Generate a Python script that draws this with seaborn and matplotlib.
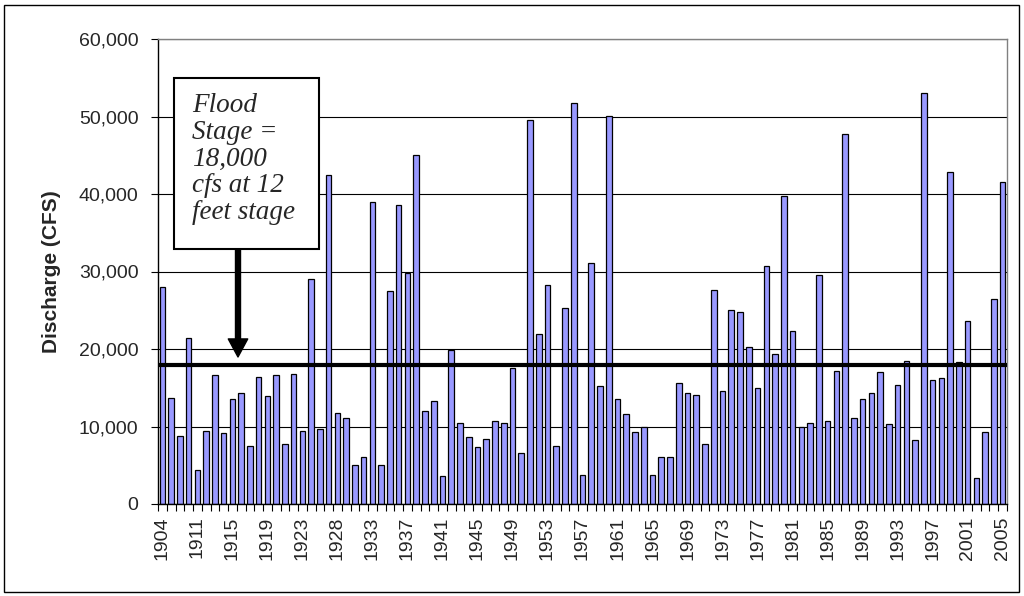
import numpy as np
import pandas as pd
import matplotlib
matplotlib.use("Agg")
import matplotlib.pyplot as plt
import matplotlib.ticker as mticker
from matplotlib.patches import Rectangle
import seaborn as sns

# annual peak discharge, one bar per year on record (a few early years are missing)
years = ([1904, 1905, 1906, 1910]
         + list(range(1911, 1926))
         + [1927, 1928, 1929, 1930, 1932]
         + list(range(1933, 2006)))

discharge = [
    28000, 13700, 8800, 21400, 4400, 9400, 16600, 9200, 13500, 14300,
    7500, 16400, 13900, 16600, 7800, 16800, 9400, 29000, 9700, 42400,
    11800, 11100, 5000, 6100, 39000, 5000, 27500, 38600, 29800, 45000,
    12000, 13300, 3600, 19900, 10500, 8600, 7300, 8400, 10700, 10500,
    17500, 6600, 49600, 21900, 28200, 7500, 25300, 51700, 3800, 31100,
    15200, 50100, 13500, 11600, 9300, 9900, 3800, 6100, 6100, 15600,
    14300, 14100, 7800, 27600, 14600, 25000, 24800, 20200, 15000, 30700,
    19400, 39700, 22300, 9900, 10500, 29600, 10700, 17200, 47700, 11100,
    13500, 14300, 17000, 10300, 15400, 18500, 8200, 53000, 16000, 16200,
    42900, 18300, 23600, 3400, 9300, 26500, 41600,
]

flood_stage = 18000
flood_note = ["Flood", "Stage =", "18,000", "cfs at 12", "feet stage"]

df = pd.DataFrame({"year": [str(y) for y in years], "cfs": discharge})

sns.set_style("white")
plt.rcParams["font.family"] = ["Liberation Sans", "DejaVu Sans"]

W, H = 1024, 596
fig = plt.figure(figsize=(W / 100, H / 100), dpi=100)
ax = fig.add_axes([158 / W, 1 - 504 / H, (1007 - 158) / W, (504 - 39) / H])

sns.barplot(data=df, x="year", y="cfs", color="#9999FF", saturation=1,
            edgecolor="black", linewidth=0.9, width=0.64, ax=ax)

# flood stage line
ax.axhline(flood_stage, color="black", lw=3, zorder=5)

ax.set_ylim(0, 60000)
ax.set_xlim(-0.5, len(years) - 0.5)
ax.yaxis.set_major_locator(mticker.MultipleLocator(10000))
ax.yaxis.set_major_formatter(mticker.StrMethodFormatter("{x:,.0f}"))
ax.yaxis.grid(True, color="black", lw=0.8)
ax.set_axisbelow(True)

# category ticks between bars, labels every 4th year
idx = np.arange(0, len(years), 4)
ax.set_xticks(idx)
ax.set_xticklabels([years[i] for i in idx], rotation=90, fontsize=14)
ax.set_xticks(np.arange(-0.5, len(years)), minor=True)
ax.tick_params(axis="x", which="major", length=0, pad=9)
ax.tick_params(axis="x", which="minor", length=5, width=0.8, color="black",
               direction="out", bottom=True)
ax.tick_params(axis="y", length=5, width=0.8, color="black", direction="out",
               left=True, labelsize=14, pad=9)

ax.set_xlabel("")
ax.set_ylabel("Discharge (CFS)", fontsize=15, fontweight="bold", labelpad=13)

for side in ["top", "right"]:
    ax.spines[side].set_color("#808080")
for side in ["left", "bottom"]:
    ax.spines[side].set_color("black")
for s in ax.spines.values():
    s.set_linewidth(1)

# annotation box with arrow
fig.add_artist(Rectangle((174 / W, 1 - 249 / H), 145 / W, 171 / H,
                         transform=fig.transFigure, fc="white", ec="black",
                         lw=1.5, zorder=10))
for k, line in enumerate(flood_note):
    fig.text(192 / W, 1 - (112 + 26.8 * k) / H, line, family="Liberation Serif",
             style="italic", fontsize=19.5, va="baseline", ha="left", zorder=11)
ax.annotate("", xy=(238 / W, 1 - 357 / H), xycoords="figure fraction",
            xytext=(238 / W, 1 - 249 / H), textcoords="figure fraction",
            arrowprops=dict(facecolor="black", edgecolor="black", width=3.6,
                            headwidth=14, headlength=13, shrink=0),
            zorder=11, annotation_clip=False)

# outer chart border
fig.add_artist(Rectangle((4 / W, 4 / H), (W - 9) / W, (H - 9) / H,
                         transform=fig.transFigure, fill=False, ec="black", lw=1))

fig.savefig("out.png", dpi=100)
